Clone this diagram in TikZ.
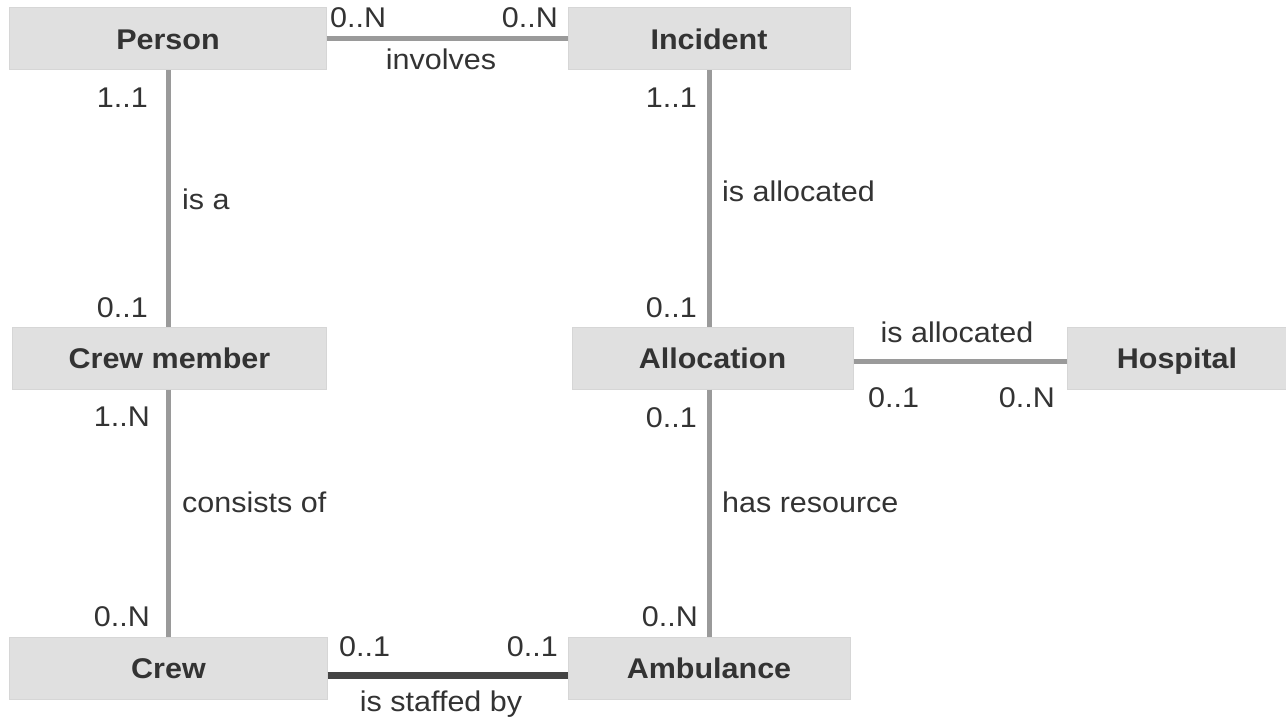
\documentclass[tikz,border=0pt]{standalone}
\usepackage{fontspec}
\setmainfont{Liberation Sans}[FakeStretch=1.07]
\usetikzlibrary{calc}

\definecolor{boxfill}{HTML}{E0E0E0}
\definecolor{boxedge}{HTML}{D6D6D6}
\definecolor{linkgrey}{HTML}{9A9A9A}
\definecolor{linkdark}{HTML}{444444}
\definecolor{ink}{HTML}{333333}

\begin{document}
\begin{tikzpicture}[x=1bp,y=-1bp,
  entity/.style={draw=boxedge, line width=1bp, fill=boxfill, minimum height=62bp,
    inner sep=0pt, text height=20.4bp, text depth=0pt,
    font=\fontsize{28.5bp}{30bp}\selectfont\bfseries, text=ink},
  link/.style={draw=linkgrey, line width=5bp},
  strong/.style={draw=linkdark, line width=7bp},
  card/.style={inner sep=0pt, font=\fontsize{28.5bp}{30bp}\selectfont, text=ink},
]
\path[use as bounding box, fill=white] (0,0) rectangle (1286,719);

% entities
\node[entity, minimum width=316bp] (person)   at (168,39)    {Person};
\node[entity, minimum width=282bp] (incident) at (709,39)    {Incident};
\node[entity, minimum width=313bp] (crewm)    at (169.5,358) {Crew member};
\node[entity, minimum width=281bp] (alloc)    at (712.5,358) {Allocation};
\node[entity, minimum width=220bp] (hosp)     at (1177,358)  {Hospital};
\node[entity, minimum width=317bp] (crew)     at (168.5,668) {Crew};
\node[entity, minimum width=282bp] (amb)      at (709,668.5) {Ambulance};

% relationships
\draw[link] (person.east) -- (incident.west);
\draw[link] (person.south) -- (person.south |- crewm.north);
\draw[link] (crewm.south -| crew.north) -- (crew.north);
\draw[link] (incident.south) -- (incident.south |- alloc.north);
\draw[link] (amb.north |- alloc.south) -- (amb.north);
\draw[link] ([yshift=-3.5bp]alloc.east) -- ([yshift=-3.5bp]alloc.east -| hosp.west);
\draw[strong] ([yshift=-7.5bp]crew.east) -- ([yshift=-7.5bp]crew.east -| amb.west);

% cardinalities and relationship names
\node[card, anchor=base west] (c1)  at (330,28)   {0..N};
\node[card, anchor=base east] (c2)  at (558,28)   {0..N};
\node[card, anchor=base]      (r1)  at (441,70)   {involves};
\node[card, anchor=base east] (c3)  at (148,108)  {1..1};
\node[card, anchor=base west] (r2)  at (182,210)  {is a};
\node[card, anchor=base east] (c4)  at (148,317)  {0..1};
\node[card, anchor=base east] (c5)  at (150,426)  {1..N};
\node[card, anchor=base west] (r3)  at (182,512)  {consists of};
\node[card, anchor=base east] (c6)  at (150,626)  {0..N};
\node[card, anchor=base west] (c7)  at (339,656)  {0..1};
\node[card, anchor=base east] (c8)  at (558,656)  {0..1};
\node[card, anchor=base]      (r4)  at (441,711)  {is staffed by};
\node[card, anchor=base east] (c9)  at (697,108)  {1..1};
\node[card, anchor=base west] (r5)  at (722,202)  {is allocated};
\node[card, anchor=base east] (c10) at (697,317)  {0..1};
\node[card, anchor=base]      (r6)  at (957,342)  {is allocated};
\node[card, anchor=base west] (c11) at (868,407)  {0..1};
\node[card, anchor=base east] (c12) at (1055,407) {0..N};
\node[card, anchor=base east] (c13) at (697,427)  {0..1};
\node[card, anchor=base west] (r7)  at (722,512)  {has resource};
\node[card, anchor=base east] (c14) at (698,626)  {0..N};
\end{tikzpicture}
\end{document}
